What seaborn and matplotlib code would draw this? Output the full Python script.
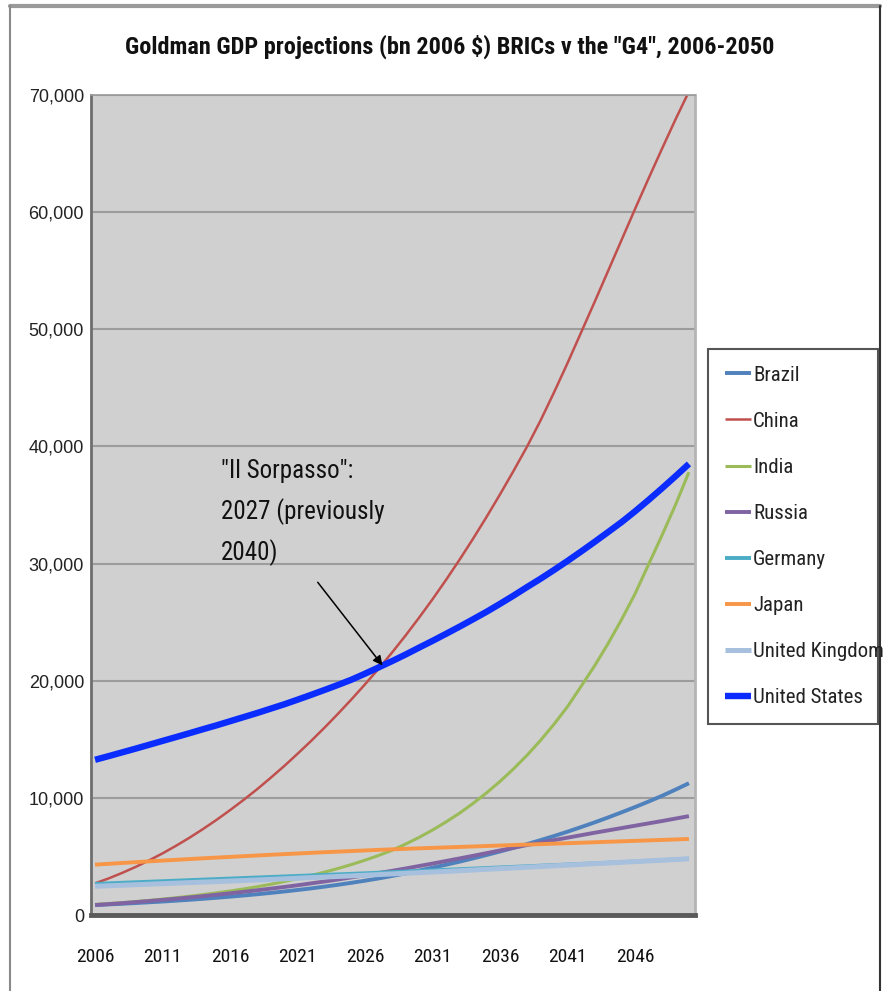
import matplotlib
matplotlib.use("Agg")
import matplotlib.pyplot as plt
from matplotlib import font_manager
from matplotlib.lines import Line2D
from matplotlib.ticker import FuncFormatter
import seaborn as sns
import pandas as pd

# ---- data: GDP, bn 2006 $ ----
years = list(range(2006, 2051))

brazil = [850, 905, 960, 1020, 1085, 1150, 1225, 1300, 1385, 1470,
          1565, 1665, 1770, 1885, 2005, 2135, 2270, 2420, 2580, 2750,
          2930, 3120, 3330, 3550, 3790, 4040, 4290, 4550, 4830, 5120,
          5420, 5730, 6050, 6390, 6740, 7110, 7500, 7900, 8320, 8760,
          9210, 9680, 10170, 10700, 11250]
china = [2700, 3120, 3590, 4100, 4660, 5260, 5910, 6600, 7340, 8120,
         8950, 9820, 10730, 11700, 12700, 13760, 14850, 15990, 17180, 18410,
         19690, 21010, 22400, 23850, 25370, 26950, 28600, 30320, 32110, 33970,
         35900, 37900, 39970, 42200, 44600, 47100, 49700, 52300, 54950, 57600,
         60250, 62850, 65400, 67900, 70300]
india = [900, 975, 1055, 1145, 1245, 1355, 1475, 1600, 1740, 1890,
         2050, 2220, 2410, 2620, 2850, 3100, 3370, 3660, 3970, 4310,
         4680, 5080, 5520, 6050, 6620, 7250, 7940, 8690, 9520, 10420,
         11400, 12470, 13630, 14900, 16280, 17780, 19500, 21250, 23150, 25200,
         27400, 29900, 32400, 35000, 37800]
russia = [850, 930, 1010, 1100, 1190, 1290, 1390, 1500, 1610, 1730,
          1850, 1980, 2110, 2250, 2390, 2540, 2700, 2860, 3030, 3210,
          3390, 3580, 3770, 3970, 4180, 4390, 4610, 4830, 5050, 5280,
          5510, 5740, 5970, 6180, 6390, 6600, 6810, 7020, 7220, 7420,
          7620, 7820, 8020, 8230, 8440]
germany = [2650, 2700, 2750, 2795, 2840, 2885, 2930, 2975, 3020, 3065,
           3110, 3155, 3200, 3245, 3290, 3335, 3380, 3425, 3470, 3515,
           3560, 3610, 3660, 3710, 3760, 3810, 3860, 3910, 3960, 4010,
           4060, 4110, 4160, 4210, 4260, 4310, 4360, 4410, 4460, 4510,
           4560, 4620, 4680, 4740, 4800]
japan = [4300, 4370, 4440, 4510, 4580, 4645, 4710, 4775, 4840, 4900,
         4960, 5020, 5080, 5140, 5195, 5250, 5305, 5360, 5410, 5460,
         5510, 5560, 5605, 5650, 5690, 5730, 5770, 5810, 5850, 5890,
         5930, 5970, 6010, 6050, 6090, 6130, 6170, 6210, 6250, 6290,
         6330, 6370, 6410, 6450, 6490]
uk = [2450, 2495, 2540, 2585, 2630, 2675, 2720, 2765, 2810, 2855,
      2900, 2945, 2990, 3040, 3090, 3140, 3190, 3240, 3290, 3340,
      3395, 3450, 3505, 3560, 3615, 3670, 3725, 3780, 3840, 3900,
      3960, 4020, 4080, 4140, 4200, 4260, 4320, 4380, 4440, 4500,
      4560, 4620, 4680, 4740, 4800]
usa = [13250, 13560, 13880, 14200, 14530, 14860, 15190, 15520, 15860, 16190,
       16540, 16890, 17240, 17610, 17980, 18380, 18790, 19210, 19640, 20090,
       20600, 21130, 21670, 22230, 22820, 23400, 24000, 24610, 25240, 25880,
       26560, 27260, 27990, 28700, 29450, 30220, 31020, 31840, 32680, 33530,
       34450, 35420, 36420, 37450, 38510]

countries = ["Brazil", "China", "India", "Russia",
             "Germany", "Japan", "United Kingdom", "United States"]
series = [brazil, china, india, russia, germany, japan, uk, usa]
x_tick_years = [2006, 2011, 2016, 2021, 2026, 2031, 2036, 2041, 2046]
y_ticks = [0, 10000, 20000, 30000, 40000, 50000, 60000, 70000]

colors = {"Brazil": "#4f81bd", "China": "#c0504d", "India": "#9bbb59",
          "Russia": "#8064a2", "Germany": "#4bacc6", "Japan": "#f79646",
          "United Kingdom": "#a7c0de", "United States": "#0a2cff"}
widths = {"Brazil": 2.8, "China": 1.8, "India": 2.2, "Russia": 2.8,
          "Germany": 2.8, "Japan": 2.8, "United Kingdom": 3.6,
          "United States": 4.6}

df = pd.DataFrame({c: v for c, v in zip(countries, series)}, index=years)
long = df.reset_index(names="year").melt(id_vars="year", var_name="country",
                                         value_name="gdp")

# ---- fonts: prefer a condensed sans face when one is installed ----
sns.set_style("white")
regular = "Liberation Sans"
entries = font_manager.fontManager.ttflist
names = {f.name for f in entries}
narrow_family, narrow_stretch, condensed = regular, "normal", False
for cand in ["Liberation Sans Narrow", "Arial Narrow", "Roboto Condensed",
             "Open Sans Condensed", "Noto Sans Condensed",
             "DejaVu Sans Condensed"]:
    if cand in names:
        narrow_family, condensed = cand, True
        break
if not condensed:
    for fam in ["Roboto", "Noto Sans", "Open Sans", "DejaVu Sans"]:
        if any(f.name == fam and str(f.stretch) in ("condensed", "semi-condensed", "75", "87.5")
               for f in entries):
            narrow_family, narrow_stretch, condensed = fam, "condensed", True
            break
plt.rcParams["font.family"] = [regular, "DejaVu Sans"]
k = 1.0 if condensed else 0.86   # size factor when no condensed face exists


def nfont(size, weight="normal"):
    return font_manager.FontProperties(family=[narrow_family, "DejaVu Sans"],
                                       stretch=narrow_stretch, size=size * k,
                                       weight=weight)


fig = plt.figure(figsize=(8.85, 9.91), dpi=100)
fig.patch.set_facecolor("white")
ax = fig.add_axes([91 / 885, 1 - 915 / 991, 604 / 885, 820 / 991])
ax.set_facecolor("#d0d0d0")

for c in countries:
    sub = long[long["country"] == c]
    sns.lineplot(data=sub, x="year", y="gdp", ax=ax, color=colors[c],
                 linewidth=widths[c], label=c, solid_capstyle="butt")

ax.set_xlim(2005.7, 2050.45)
ax.set_ylim(0, 70000)
ax.set_xticks(x_tick_years)
ax.set_yticks(y_ticks)
ax.yaxis.set_major_formatter(FuncFormatter(lambda v, p: f"{v:,.0f}"))
ax.set_xlabel("")
ax.set_ylabel("")
ax.grid(axis="y", color="#9c9c9c", linewidth=1.5)
ax.grid(axis="x", visible=False)
ax.set_axisbelow(True)
ax.tick_params(axis="both", length=0)
ax.tick_params(axis="y", pad=5)
ax.tick_params(axis="x", pad=24)
for lab in ax.get_yticklabels():
    lab.set_fontfamily([regular, "DejaVu Sans"])
    lab.set_fontsize(13)
    lab.set_color("#222222")
for lab in ax.get_xticklabels():
    lab.set_fontproperties(nfont(14))
    lab.set_color("#111111")

ax.spines["top"].set_color("#9a9a9a")
ax.spines["top"].set_linewidth(1.2)
ax.spines["left"].set_color("#6e6e6e")
ax.spines["left"].set_linewidth(2)
ax.spines["right"].set_color("#b4b4b4")
ax.spines["right"].set_linewidth(2)
ax.spines["bottom"].set_color("#5a5a5a")
ax.spines["bottom"].set_linewidth(3.5)

# annotation of the crossing point
ax.text(2015.3, 38950, "\"Il Sorpasso\":\n2027 (previously\n2040)",
        fontproperties=nfont(18), color="#111111",
        va="top", ha="left", linespacing=1.72)
ax.annotate("", xy=(2027.3, 21300), xytext=(2022.5, 28400),
            arrowprops=dict(arrowstyle="-|>", color="black", lw=1.1,
                            mutation_scale=14, shrinkA=0, shrinkB=0))

# title
fig.text(0.508, 1 - 47 / 991,
         "Goldman GDP projections (bn 2006 $) BRICs v the \"G4\", 2006-2050",
         ha="center", va="center", fontproperties=nfont(17.5, "bold"),
         color="#111111")

# legend outside the plot area
handles, labels = ax.get_legend_handles_labels()
ax.get_legend().remove()
leg = fig.legend(handles, labels, loc="upper left",
                 bbox_to_anchor=(708 / 885, 1 - 350 / 991, 170 / 885, 0.001),
                 bbox_transform=fig.transFigure, borderaxespad=0, mode="expand",
                 frameon=True, fancybox=False, framealpha=1,
                 edgecolor="#555555", handlelength=1.25, handletextpad=0.12,
                 labelspacing=1.3, borderpad=0.8, prop=nfont(15))
leg.get_frame().set_linewidth(1.5)
for t in leg.get_texts():
    t.set_color("#222222")

# outer frame of the figure
fig.add_artist(Line2D([10 / 885, 880 / 885], [1 - 6 / 991, 1 - 6 / 991],
                      transform=fig.transFigure, color="#9a9a9a", lw=3))
fig.add_artist(Line2D([10 / 885, 10 / 885], [1 - 6 / 991, 0],
                      transform=fig.transFigure, color="#8a8a8a", lw=1.5))
fig.add_artist(Line2D([880 / 885, 880 / 885], [1 - 6 / 991, 0],
                      transform=fig.transFigure, color="#333333", lw=1.5))

fig.savefig("out.png", dpi=100, facecolor="white")
